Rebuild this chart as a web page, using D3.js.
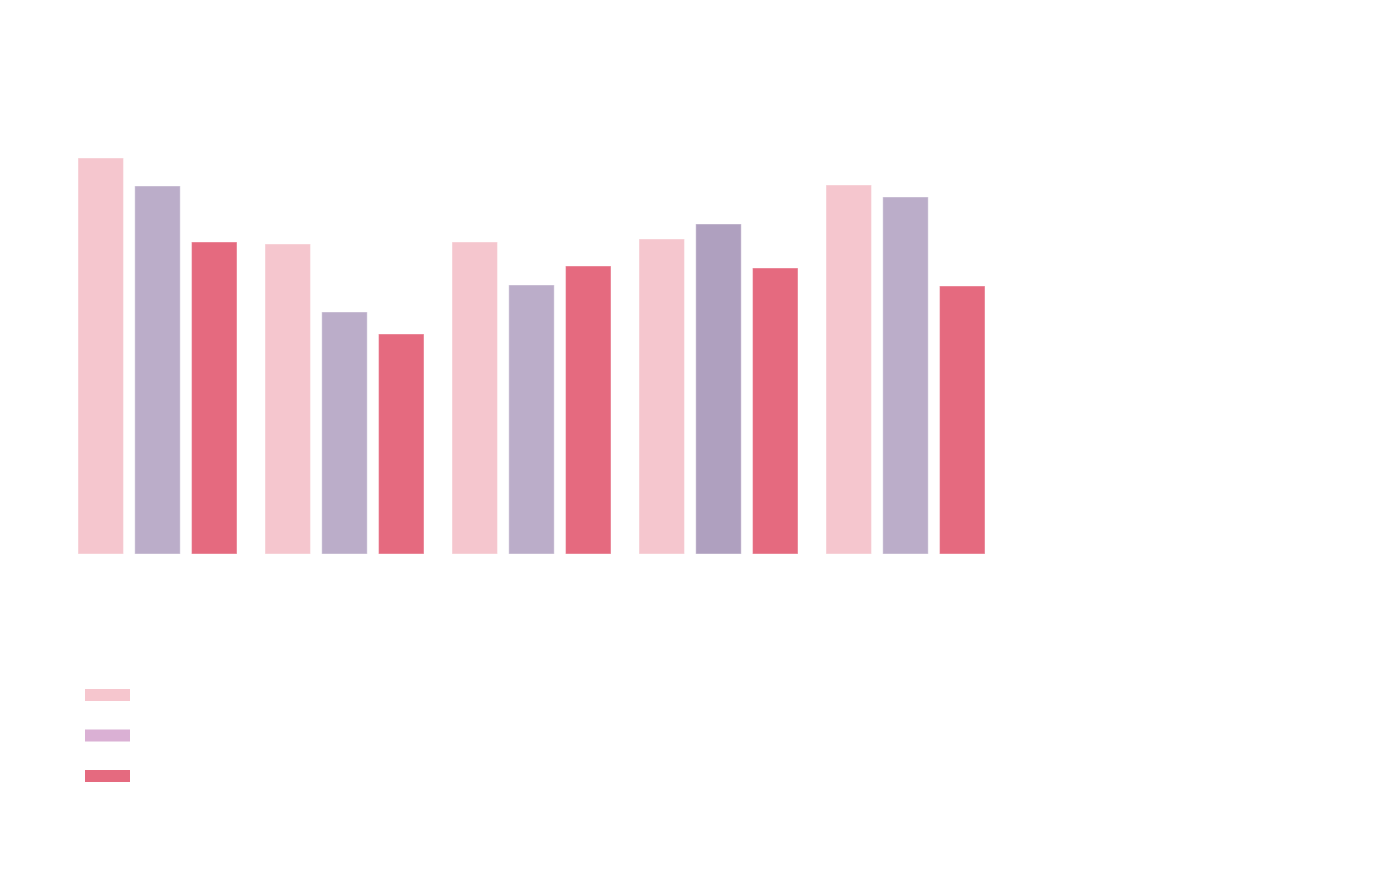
<!DOCTYPE html>
<html>
<head>
<meta charset="utf-8">
<script src="https://cdn.jsdelivr.net/npm/d3@7"></script>
<style>
  body { margin: 0; background: #fff; }
</style>
</head>
<body>
<div id="chart"></div>
<script>
var width = 1380, height = 890

// Data (no labels are shown in the picture)
var groups = ["g1", "g2", "g3", "g4", "g5"]
var seriesNames = ["s1", "s2", "s3"]
var series1 = [79.2, 62.0, 62.4, 63.0, 73.8]
var series2 = [73.6, 48.4, 53.8, 66.0, 71.4]
var series3 = [62.4, 44.0, 57.6, 57.2, 53.6]
var colors = ["#f5c6ce", "#bbadc9", "#e56a7f"]
var legendColors = ["#f6c6ce", "#dab0d4", "#e56a7f"]
var hoverGroup = "g4", hoverSeries = "s2", hoverColor = "#afa0bf"

var svg = d3.select("#chart")
    .append("svg")
    .attr("width", width)
    .attr("height", height)

var rows = groups.map(function(g, i) {
    return { group: g, values: [series1[i], series2[i], series3[i]] }
})

// Scales
var x0 = d3.scaleBand()
    .domain(groups)
    .range([64, 999])
    .paddingInner(0.15)
    .paddingOuter(0.075)
var x1 = d3.scaleBand()
    .domain(seriesNames)
    .range([0, x0.bandwidth()])
    .paddingInner(0.2)
var y = d3.scaleLinear()
    .domain([0, 100])
    .range([554, 54])
var color = d3.scaleOrdinal().domain(seriesNames).range(colors)

// Bars
svg.append("g")
    .selectAll("g")
    .data(rows)
    .enter().append("g")
    .attr("transform", function(d) { return "translate(" + x0(d.group) + ",0)" })
    .selectAll("rect")
    .data(function(d) {
        return seriesNames.map(function(s, j) { return { group: d.group, key: s, value: d.values[j] } })
    })
    .enter().append("rect")
    .attr("x", function(d) { return x1(d.key) })
    .attr("y", function(d) { return y(d.value) })
    .attr("width", x1.bandwidth())
    .attr("height", function(d) { return y(0) - y(d.value) })
    .attr("fill", function(d) {
        // the hovered bar in the picture is a shade darker
        if (d.group == hoverGroup && d.key == hoverSeries) return hoverColor
        return color(d.key)
    })
    .style("stroke", "#fff")
    .style("stroke-opacity", 0.4)
    .style("stroke-width", 1)

// Legend
var legend = svg.append("g")
    .attr("transform", "translate(85,689)")
legend.selectAll("rect")
    .data(seriesNames)
    .enter().append("rect")
    .attr("x", 0)
    .attr("y", function(d, i) { return i * 40.5 })
    .attr("width", 45)
    .attr("height", 12)
    .attr("fill", function(d, i) { return legendColors[i] })
</script>
</body>
</html>
